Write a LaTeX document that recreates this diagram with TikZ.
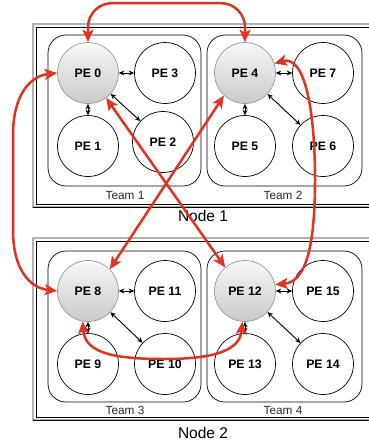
\documentclass[tikz,border=0pt]{standalone}
\usepackage{fontspec}
\setmainfont{Liberation Sans}
\usetikzlibrary{arrows.meta}
\definecolor{linkred}{RGB}{226,50,32}
\definecolor{teamtext}{RGB}{40,40,40}
\begin{document}
\begin{tikzpicture}[x=1pt,y=-1pt,
  pe/.style={circle,draw=black,line width=0.7pt,minimum size=61pt,inner sep=0pt,
    font=\fontsize{12.3}{14}\selectfont\bfseries},
  lead/.style={pe,draw=gray!80,top color=gray!6,bottom color=gray!42},
  teambox/.style={draw,line width=0.7pt,rounded corners=18pt},
  teamlabel/.style={font=\fontsize{11.8}{14}\selectfont,text=teamtext,inner sep=0pt},
  nodelabel/.style={font=\fontsize{15.5}{18}\selectfont,inner sep=0pt},
  redlink/.style={draw=linkred,line width=2.5pt,
    {Stealth[length=12.5pt,width=11pt,inset=3pt]}-{Stealth[length=12.5pt,width=11pt,inset=3pt]}},
  blink/.style={line width=0.9pt,
    {Stealth[length=5.5pt,width=5pt]}-{Stealth[length=5.5pt,width=5pt]}}]
\useasboundingbox (0,0) rectangle (369,444);

% node frames: gray outer line, thin black inner line
\foreach \t/\b in {24/207,238/420}{
  \draw[gray!60,line width=1.3pt] (33,\t) rectangle (372,\b);
  \draw[black,line width=0.8pt] (33,\b) -- (372,\b);
  \draw[black,line width=0.6pt] (36,\t+3) rectangle (369,\b-3);
}

% team boxes
\draw[teambox] (48,35) rectangle (201,186);
\draw[teambox] (207,35) rectangle (362,186);
\draw[teambox] (48,251) rectangle (201,402);
\draw[teambox] (207,251) rectangle (362,402);

% labels
\node[teamlabel] (T1) at (125,195) {Team 1};
\node[teamlabel] (T2) at (283,195) {Team 2};
\node[teamlabel] (T3) at (125,410) {Team 3};
\node[teamlabel] (T4) at (283,410) {Team 4};
\node[nodelabel] (N1) at (203,216) {Node 1};
\node[nodelabel] (N2) at (203,433) {Node 2};

% processing elements
\node[lead] (PE0)  at (88,73)   {PE 0};
\node[pe]   (PE3)  at (165,73)  {PE 3};
\node[pe]   (PE1)  at (88,146)  {PE 1};
\node[pe]   (PE2)  at (163,142) {PE 2};
\node[lead] (PE4)  at (245,73)  {PE 4};
\node[pe]   (PE7)  at (323,73)  {PE 7};
\node[pe]   (PE5)  at (245,146) {PE 5};
\node[pe]   (PE6)  at (323,146) {PE 6};
\node[lead] (PE8)  at (88,291)  {PE 8};
\node[pe]   (PE11) at (165,291) {PE 11};
\node[pe]   (PE9)  at (88,364)  {PE 9};
\node[pe]   (PE10) at (165,364) {PE 10};
\node[lead] (PE12) at (245,291) {PE 12};
\node[pe]   (PE15) at (323,291) {PE 15};
\node[pe]   (PE13) at (245,364) {PE 13};
\node[pe]   (PE14) at (323,364) {PE 14};

% links inside each team
\foreach \l/\a/\b/\c in {PE0/PE3/PE1/PE2, PE4/PE7/PE5/PE6, PE8/PE11/PE9/PE10, PE12/PE15/PE13/PE14}{
  \draw[blink] (\l) -- (\a);
  \draw[blink] (\l) -- (\b);
  \draw[blink] (\l) -- (\c);
}

% links between team leaders
\draw[redlink,rounded corners=24pt] (PE0.north) -- ++(0,-39) -| (PE4.north);
\draw[redlink] (PE0.west) .. controls (30,76) and (13,95) .. (13,135)
  -- (13,230) .. controls (13,270) and (30,288) .. (PE8.west);
\draw[redlink] (PE0.-54) -- (PE12.130);
\draw[redlink] (PE4.-133) -- (PE8.45);
\draw[redlink] (PE4.18) .. controls (305,55) and (315,110) .. (315,180)
  .. controls (315,250) and (305,282) .. (PE12.12);
\draw[redlink] (PE8.-100) .. controls (85,355) and (120,359) .. (165,359)
  .. controls (215,359) and (240,350) .. (PE12.-95);
\end{tikzpicture}
\end{document}
